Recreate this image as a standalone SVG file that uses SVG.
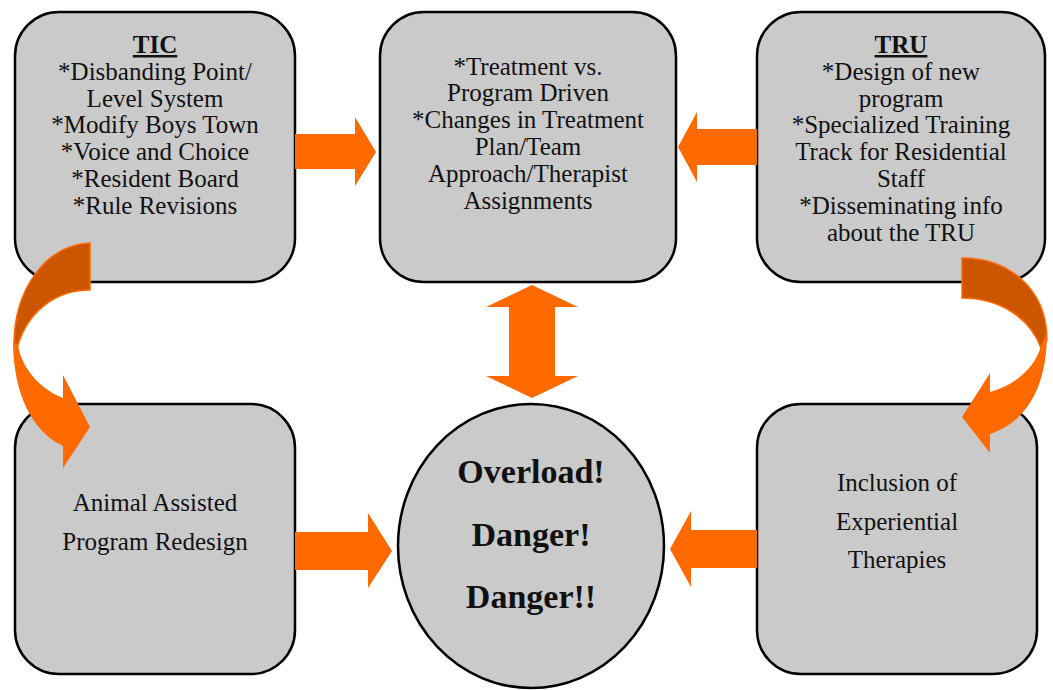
<svg xmlns="http://www.w3.org/2000/svg" width="1053" height="690" viewBox="0 0 1053 690">
<style>
.box{fill:#CACACA;stroke:#000;stroke-width:2.5}
.t{font-family:"Liberation Serif","Times New Roman",serif;font-size:25px;fill:#111;text-anchor:middle}
.h{font-weight:bold;text-decoration:underline}
.big{font-family:"Liberation Serif","Times New Roman",serif;font-size:34px;font-weight:bold;fill:#111;text-anchor:middle}
.arr{fill:#FF6A00}
.dark{fill:#CC5500;stroke:#FF6A00;stroke-width:1.5}
</style>
<rect width="1053" height="690" fill="#fff"/>
<g id="node-tic">
<rect class="box" x="15" y="12" width="280" height="270" rx="44"/>
<text class="t" x="155" y="53"><tspan class="h" x="155">TIC</tspan><tspan x="155" dy="26.8">*Disbanding Point/</tspan><tspan x="155" dy="26.8">Level System</tspan><tspan x="155" dy="26.8">*Modify Boys Town</tspan><tspan x="155" dy="26.8">*Voice and Choice</tspan><tspan x="155" dy="26.8">*Resident Board</tspan><tspan x="155" dy="26.8">*Rule Revisions</tspan></text>
</g>
<g id="node-treatment">
<rect class="box" x="380" y="12" width="296" height="270" rx="44"/>
<text class="t" x="528" y="74.5"><tspan x="528">*Treatment vs.</tspan><tspan x="528" dy="26.8">Program Driven</tspan><tspan x="528" dy="26.8">*Changes in Treatment</tspan><tspan x="528" dy="26.8">Plan/Team</tspan><tspan x="528" dy="26.8">Approach/Therapist</tspan><tspan x="528" dy="26.8">Assignments</tspan></text>
</g>
<g id="node-tru">
<rect class="box" x="757" y="12" width="288" height="270" rx="44"/>
<text class="t" x="901" y="53"><tspan class="h" x="901">TRU</tspan><tspan x="901" dy="26.8">*Design of new</tspan><tspan x="901" dy="26.8">program</tspan><tspan x="901" dy="26.8">*Specialized Training</tspan><tspan x="901" dy="26.8">Track for Residential</tspan><tspan x="901" dy="26.8">Staff</tspan><tspan x="901" dy="26.8">*Disseminating info</tspan><tspan x="901" dy="26.8">about the TRU</tspan></text>
</g>
<g id="node-animal">
<rect class="box" x="15" y="404" width="280" height="270" rx="44"/>
<text class="t" x="155" y="511"><tspan x="155">Animal Assisted</tspan><tspan x="155" dy="39">Program Redesign</tspan></text>
</g>
<g id="node-experiential">
<rect class="box" x="757" y="404" width="280" height="270" rx="44"/>
<text class="t" x="897" y="491"><tspan x="897">Inclusion of</tspan><tspan x="897" dy="38.5">Experiential</tspan><tspan x="897" dy="38.5">Therapies</tspan></text>
</g>
<g id="node-overload">
<ellipse class="box" cx="531" cy="546" rx="133" ry="142"/>
<text class="big" x="531" y="483"><tspan x="531">Overload!</tspan><tspan x="531" dy="62.5">Danger!</tspan><tspan x="531" dy="62.5">Danger!!</tspan></text>
</g>
<g id="connectors">
<polygon class="arr" points="295,134 355,134 355,117 376,152 355,186 355,169 295,169"/>
<polygon class="arr" points="757,129 697,129 697,112 678,147 697,182 697,165 757,165"/>
<polygon class="arr" points="532,285 578,307 555,307 555,376 578,376 532,398 486,376 509,376 509,307 486,307"/>
<polygon class="arr" points="295,532 368,532 368,513 392,551 368,588 368,570 295,570"/>
<polygon class="arr" points="757,530 691,530 691,511 670,549 691,587 691,568 757,568"/>
<path class="dark" d="M90,243 C45,245 14,290 14,345 L18,345 C28,312 55,290 90,290 Z"/>
<path class="arr" d="M13,340 C13,395 33,432 63,446 L63,468 L90,427 L63,375 L63,398 C42,390 22,370 18,345 Z"/>
<path class="dark" d="M962,258 C1010,258 1047,290 1047,340 L1041,348 C1030,318 1000,298 962,298 Z"/>
<path class="arr" d="M1047,332 C1047,390 1025,422 990,434 L990,453 L962,417 L990,373 L990,392 C1015,385 1035,368 1041,346 Z"/>
</g>
</svg>
